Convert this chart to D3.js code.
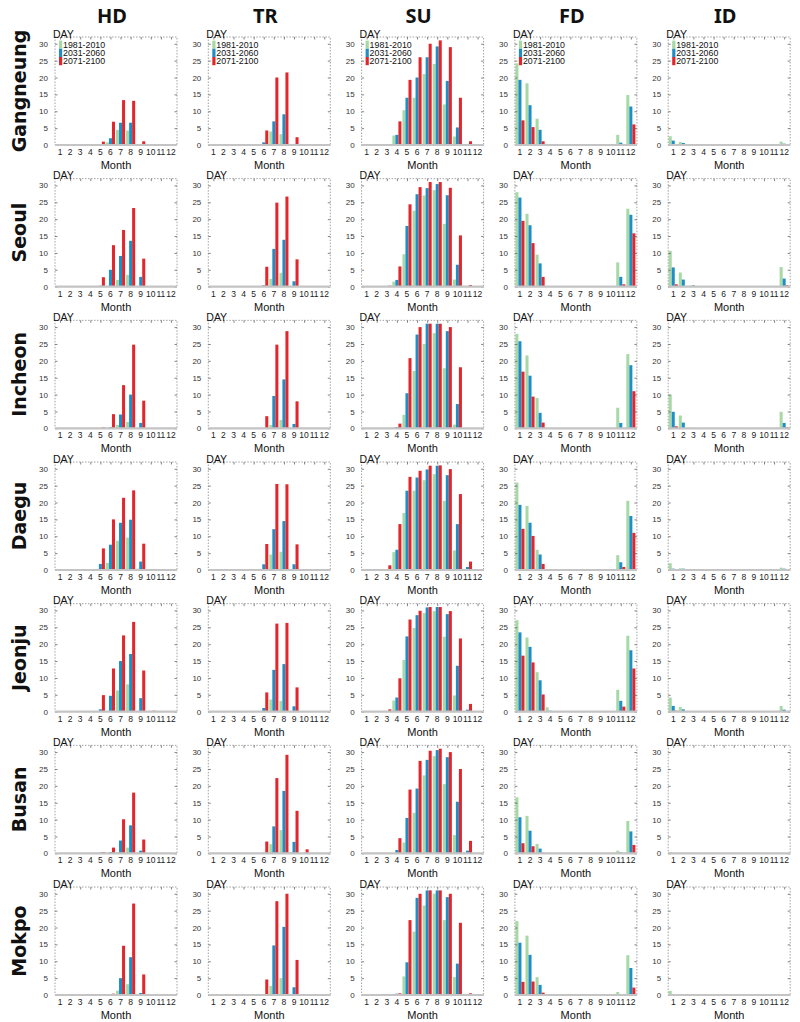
<!DOCTYPE html>
<html><head><meta charset="utf-8">
<script src="https://cdn.jsdelivr.net/npm/d3@7"></script>
<style>body{margin:0;background:#fff}svg{display:block}</style>
</head><body><svg id="c" width="800" height="1022"></svg>
<script>
const months = [1,2,3,4,5,6,7,8,9,10,11,12];
const periods = ["1981-2010","2031-2060","2071-2100"];
const periodColors = ["#a6d9a6","#1f8ec6","#e2262b"];
const indices = ["HD","TR","SU","FD","ID"];
const stations = ["Gangneung","Seoul","Incheon","Daegu","Jeonju","Busan","Mokpo"];
const yTicks = [0,5,10,15,20,25,30];

// rows = stations (Gangneung, Seoul, Incheon, Daegu, Jeonju, Busan, Mokpo), 12 months each
const HD_1981_2010 = [
  [0,0,0,0,0,0.8,4.5,4.3,0.2,0,0,0],
  [0,0,0,0,0,0,2,3.5,0,0,0,0],
  [0,0,0,0,0,0,1,1.9,0,0,0,0],
  [0,0,0,0,0,2.1,8.7,9.6,0.4,0.2,0,0],
  [0,0,0,0,0,0,6.3,8.1,0,0.2,0,0],
  [0,0,0,0,0,0,0.3,1.7,0,0,0,0],
  [0,0,0,0,0,0,1.3,3.2,0,0,0,0]];
const HD_2031_2060 = [
  [0,0,0,0,0,2,6.6,6.6,0.3,0,0,0],
  [0,0,0,0,0.3,5,9.1,13.6,2.9,0,0,0],
  [0,0,0,0,0,0.4,4.1,10,1.6,0,0,0],
  [0,0,0,0,1.8,7.5,14,14.9,2.5,0.2,0,0],
  [0,0,0,0,0.7,4.7,15,17.1,4,0,0,0],
  [0,0,0,0,0.2,0.4,3.8,8.3,0.8,0,0,0],
  [0,0,0,0,0,0.2,5,11.2,0.6,0,0,0]];
const HD_2071_2100 = [
  [0,0,0,0,1,6.9,13.3,13.1,1.1,0,0,0],
  [0,0,0,0,2.8,12.3,16.8,23.3,8.3,0,0,0],
  [0,0,0,0,0.3,4.2,12.8,24.8,8.2,0,0,0],
  [0,0,0,0,6.4,15,21.4,23.6,7.8,0,0,0],
  [0,0,0,0,4.9,12.8,22.6,26.6,12.2,0.3,0,0],
  [0,0,0,0,0.4,1.7,10.1,18,4.1,0,0,0],
  [0,0,0,0,0,0.4,14.6,27.1,6.1,0,0,0]];

const TR_1981_2010 = [
  [0,0,0,0,0,0,4,3.2,0,0,0,0],
  [0,0,0,0,0,0,2.3,4.1,0,0,0,0],
  [0,0,0,0,0,0,1,2.5,0,0,0,0],
  [0,0,0,0,0,0,4.6,5.4,0,0.2,0,0],
  [0,0,0,0,0,0,3.6,3.2,0,0,0,0],
  [0,0,0,0,0,0,2.7,6.9,0.4,0,0,0],
  [0,0,0,0,0,0,2.7,5,0,0,0,0]];
const TR_2031_2060 = [
  [0,0,0,0,0,0.8,7,9.1,0.3,0,0,0],
  [0,0,0,0,0,0.4,11.2,13.9,1.6,0,0,0],
  [0,0,0,0,0,0,9.6,14.5,1.3,0,0,0],
  [0,0,0,0,0,1.7,12.1,14.5,1.7,0,0,0],
  [0,0,0,0,0,1.1,12.4,14.1,1.6,0,0,0],
  [0,0,0,0,0,0.2,8,18.5,3.4,0,0,0],
  [0,0,0,0,0,0,14.7,20.2,2.3,0,0,0]];
const TR_2071_2100 = [
  [0,0,0,0,0,4.3,20,21.5,2.3,0,0,0],
  [0,0,0,0,0,5.9,24.9,26.7,8.1,0,0,0],
  [0,0,0,0,0,3.6,24.8,28.8,8,0,0,0],
  [0,0,0,0,0,7.7,25.5,25.4,7.6,0,0,0],
  [0,0,0,0,0,5.7,26.1,26.3,7.2,0,0,0],
  [0,0,0,0,0,3.5,22.3,29.2,12.6,1.2,0,0],
  [0,0,0,0,0,4.6,27.8,30,10.4,0,0,0]];

const SU_1981_2010 = [
  [0,0,0,2.8,10.3,14,21,24,12,2.5,0,0],
  [0,0,0,1.5,9.6,22.5,27,28.6,18.6,2.1,0,0],
  [0,0,0,0.2,4,17,25,28.2,17.8,1.1,0,0],
  [0,0,0,5.3,16.9,23.5,26.6,28.4,20.5,5.8,0,0],
  [0,0,0,3.3,15.3,24.8,29.2,29.8,22.2,4.8,0,0],
  [0,0,0,0,3.2,12,23.1,28.8,20.5,5.4,0,0],
  [0,0,0,0.2,5.5,18.8,26.5,30,22.2,5.3,0,0]];
const SU_2031_2060 = [
  [0,0,0,3,14,20,26,29.2,19,5.2,0.3,0],
  [0,0,0,2,18,27.4,29.2,30.4,27.1,6.5,0,0],
  [0,0,0,0.4,10.4,27.8,31,31,28.8,7.2,0,0],
  [0,0,0,6,23.5,27.4,29.8,30.9,28.1,13.6,0.9,0],
  [0,0,0,4.2,22.3,28.6,30.9,31,28.9,13.6,0.6,0],
  [0,0,0,1,10.5,19.2,27.7,30.6,28.5,15.3,0.8,0],
  [0,0,0,0.4,9.7,28.8,31,31,29,9.3,0,0]];
const SU_2071_2100 = [
  [0,0,0.3,7,19.3,26,30,31,29,14,1.1,0],
  [0,0,0.3,6,24.4,29.5,31,31,29.3,15.2,0.5,0],
  [0,0,0,1.4,20.8,30,31,31,30,18.1,0,0],
  [0,0,1.4,13.6,27.6,29.4,30.9,31,29.9,22.5,2.5,0],
  [0,0,0.7,9.9,27.3,29.9,31,31,29.8,21.7,2.3,0],
  [0,0,0,4.5,18.9,27.4,30.4,31,30,25,3.7,0],
  [0,0,0,0.5,22.2,30,31,31,30,21.4,0.5,0]];

const FD_1981_2010 = [
  [24.2,18.3,7.8,0,0,0,0,0,0,0,3,14.8],
  [28,21.6,9.5,0,0,0,0,0,0,0,7.2,23.1],
  [28,21.6,9,0,0,0,0,0,0,0,6.1,22],
  [25.9,19,6,0,0,0,0,0,0,0,4.4,20.5],
  [27.1,22,11.7,1.3,0,0,0,0,0,0,6.5,22.5],
  [16.6,11.1,2.8,0,0,0,0,0,0,0,0.8,9.6],
  [21.9,17.6,5.3,0,0,0,0,0,0,0,0.9,11.8]];
const FD_2031_2060 = [
  [19.3,11.8,4.5,0,0,0,0,0,0,0,0.7,11.4],
  [26.4,18.2,6.9,0,0,0,0,0,0,0,2.9,21.3],
  [25.8,15.6,4.6,0,0,0,0,0,0,0,1.6,18.7],
  [19.3,14,4.6,0,0,0,0,0,0,0,2.3,16],
  [23.5,19.2,9.3,0.3,0,0,0,0,0,0,3.2,18.2],
  [10.7,6.7,1.4,0,0,0,0,0,0,0,0.3,6.5],
  [15.5,11.9,3,0,0,0,0,0,0,0,0.3,8]];
const FD_2071_2100 = [
  [7.3,5.3,1.1,0,0,0,0,0,0,0,0,6.1],
  [19.5,12.9,2.9,0,0,0,0,0,0,0,0.7,15.8],
  [16.8,9.4,1.7,0,0,0,0,0,0,0,0,11],
  [12.2,10.1,1.8,0,0,0,0,0,0,0,0.9,11],
  [16.6,14.6,5.1,0,0,0,0,0,0,0,1.5,12.8],
  [3,2.1,0.2,0,0,0,0,0,0,0,0,2.5],
  [3.9,4,0.7,0,0,0,0,0,0,0,0,2.2]];

const ID_1981_2010 = [
  [2.6,0.9,0,0,0,0,0,0,0,0,0,1],
  [10.6,4.2,0.3,0,0,0,0,0,0,0,0,5.8],
  [10,3.8,0.2,0,0,0,0,0,0,0,0,4.9],
  [2,0.5,0,0,0,0,0,0,0,0,0,0.7],
  [4.2,1.4,0,0,0,0,0,0,0,0,0,1.7],
  [0.4,0,0,0,0,0,0,0,0,0,0,0],
  [1.2,0.3,0,0,0,0,0,0,0,0,0,0]];
const ID_2031_2060 = [
  [1.3,0.6,0,0,0,0,0,0,0,0,0,0.4],
  [5.7,2.1,0.4,0,0,0,0,0,0,0,0,2.4],
  [4.9,1.7,0,0,0,0,0,0,0,0,0,1.6],
  [0.4,0.4,0,0,0,0,0,0,0,0,0,0.4],
  [1.7,0.7,0,0,0,0,0,0,0,0,0,0.6],
  [0,0,0,0,0,0,0,0,0,0,0,0],
  [0.3,0,0,0,0,0,0,0,0,0,0,0]];
const ID_2071_2100 = [
  [0,0,0,0,0,0,0,0,0,0,0,0],
  [0.7,0,0,0,0,0,0,0,0,0,0,0.4],
  [0.6,0,0,0,0,0,0,0,0,0,0,0.3],
  [0,0,0,0,0,0,0,0,0,0,0,0],
  [0.3,0,0,0,0,0,0,0,0,0,0,0],
  [0,0,0,0,0,0,0,0,0,0,0,0],
  [0,0,0,0,0,0,0,0,0,0,0,0]];

const seriesByIndex = {
  HD: [HD_1981_2010, HD_2031_2060, HD_2071_2100],
  TR: [TR_1981_2010, TR_2031_2060, TR_2071_2100],
  SU: [SU_1981_2010, SU_2031_2060, SU_2071_2100],
  FD: [FD_1981_2010, FD_2031_2060, FD_2071_2100],
  ID: [ID_1981_2010, ID_2031_2060, ID_2071_2100]
};

const svg = d3.select("#c");
svg.append("rect").attr("width",800).attr("height",1022).attr("fill","#fff");

const W = 122, H = 108;
const colScale = d3.scaleLinear().domain([0,1]).range([55, 208.3]);
const rowScale = d3.scaleLinear().domain([0,1]).range([37, 178.67]);

const y = d3.scaleLinear().domain([0,32]).range([H,0]);
const x = d3.scaleBand().domain(months).range([0,121]).paddingInner(0.1).paddingOuter(0.05);
const xs = d3.scaleBand().domain([0,1,2]).range([0,x.bandwidth()]);

// column headers
indices.forEach((ind,c)=>{
  svg.append("text").attr("x", colScale(c)+W/2-4).attr("y", 23)
    .attr("text-anchor","middle").attr("font-family","'Noto Sans', sans-serif")
    .attr("font-weight","bold").attr("font-size",20).attr("fill","#111").text(ind);
});
// row labels
stations.forEach((st,r)=>{
  const cy = rowScale(r)+H/2;
  svg.append("text").attr("transform",`translate(26,${cy}) rotate(-90)`)
    .attr("text-anchor","middle").attr("font-family","'DejaVu Sans', sans-serif")
    .attr("font-weight","bold").attr("font-size",19).attr("fill","#111").text(st);
});

const fontF = "'Liberation Sans', Arial, sans-serif";
stations.forEach((st,r)=>{
  indices.forEach((ind,c)=>{
    const g = svg.append("g").attr("transform",`translate(${colScale(c)},${rowScale(r)})`);
    const sets = seriesByIndex[ind];
    // bars
    periods.forEach((p,pi)=>{
      const vals = sets[pi][r];
      g.append("g").selectAll("rect").data(months.filter((m,i)=>vals[i]>0))
        .join("rect")
        .attr("x", m=>x(m)+xs(pi))
        .attr("width", xs.bandwidth())
        .attr("y", m=>y(vals[m-1]))
        .attr("height", m=>H-y(vals[m-1]))
        .attr("fill", periodColors[pi]);
    });
    // border box
    g.append("rect").attr("x",0).attr("y",0).attr("width",W).attr("height",H)
      .attr("fill","none").attr("stroke","#8a8a8a").attr("stroke-width",0.8)
      .attr("stroke-dasharray","1.5,1.5");
    // inside ticks
    const tickStyle = sel=>{ sel.select(".domain").remove(); sel.selectAll("line").attr("stroke","#666").attr("stroke-width",0.8); sel.selectAll("text").remove(); };
    g.append("g").call(d3.axisLeft(y).tickValues(yTicks).tickSize(-2.5)).call(tickStyle);
    g.append("g").attr("transform",`translate(${W},0)`).call(d3.axisRight(y).tickValues(yTicks).tickSize(-2.5)).call(tickStyle);
    g.append("g").call(d3.axisTop(d3.scalePoint().domain(months).range([x(1)+x.bandwidth()/2, x(12)+x.bandwidth()/2])).tickSize(-2.5)).call(tickStyle);
    // baseline
    g.append("line").attr("x1",0).attr("x2",W).attr("y1",y(0)).attr("y2",y(0))
      .attr("stroke","#c4c4c4").attr("stroke-width",2.2);
    // y labels
    const ya = g.append("g").call(d3.axisLeft(y).tickValues(yTicks).tickSize(0).tickPadding(7));
    ya.select(".domain").remove();
    ya.selectAll("text").attr("font-family",fontF).attr("font-size",8).attr("fill","#333");
    // x labels
    const xa = g.append("g").attr("transform",`translate(0,${H})`)
      .call(d3.axisBottom(x).tickSize(0).tickPadding(4));
    xa.select(".domain").remove();
    xa.selectAll("text").attr("font-family",fontF).attr("font-size",8.5).attr("fill","#222");
    // axis titles
    g.append("text").attr("x",W/2).attr("y",H+24).attr("text-anchor","middle")
      .attr("font-family",fontF).attr("font-size",11).attr("fill","#111").text("Month");
    g.append("text").attr("x",-2).attr("y",0.5).attr("font-family",fontF)
      .attr("font-size",10.5).attr("fill","#111").text("DAY");
    // legend on first row
    if (r===0){
      periods.forEach((p,pi)=>{
        g.append("rect").attr("x",4).attr("y",3.6+pi*8.2).attr("width",3.2).attr("height",8.2).attr("fill",periodColors[pi]);
        g.append("text").attr("x",8).attr("y",10.9+pi*8.2).attr("font-family",fontF)
          .attr("font-size",8.8).attr("fill","#111").text(p);
      });
    }
  });
});
</script></body></html>
